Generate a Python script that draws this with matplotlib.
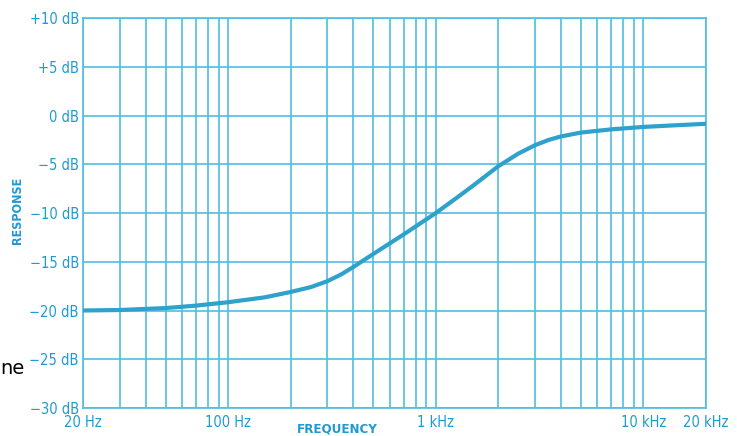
import matplotlib
matplotlib.use('Agg')
import matplotlib.pyplot as plt
from matplotlib.ticker import FixedLocator, NullFormatter

# response curve
freq = [20, 30, 50, 70, 100, 150, 200, 250, 300, 350, 400, 500, 700, 1000,
        1250, 1500, 1750, 2000, 2500, 3000, 3500, 4000, 5000, 7000, 10000, 15000, 20000]
response = [-20.0, -19.95, -19.75, -19.5, -19.15, -18.65, -18.1, -17.6, -17.0, -16.3, -15.55, -14.2, -12.2, -10.0,
            -8.5, -7.25, -6.15, -5.2, -3.9, -3.05, -2.5, -2.15, -1.75, -1.42, -1.17, -0.98, -0.85]

y_ticks = [10, 5, 0, -5, -10, -15, -20, -25, -30]
y_labels = ['+10 dB', '+5 dB', '0 dB', '\u22125 dB', '\u221210 dB', '\u221215 dB',
            '\u221220 dB', '\u221225 dB', '\u221230 dB']
x_ticks = [20, 100, 1000, 10000, 20000]
x_labels = ['20 Hz', '100 Hz', '1 kHz', '10 kHz', '20 kHz']
grid_freqs = [20, 30, 40, 50, 60, 70, 80, 90,
              100, 200, 300, 400, 500, 600, 700, 800, 900,
              1000, 2000, 3000, 4000, 5000, 6000, 7000, 8000, 9000,
              10000, 20000]

grid_color = '#52bde0'
text_color = '#1f9ad3'
curve_color = '#2ea2cc'
font = ['DejaVu Sans']

fig = plt.figure(figsize=(7.37, 4.36), dpi=100)
W, H = 737, 436
ax = fig.add_axes([83 / W, 1 - 408 / H, (706 - 83) / W, (408 - 18) / H])

ax.set_xscale('log')
ax.set_xlim(20, 20000)
ax.set_ylim(-30, 10)

for f in grid_freqs:
    ax.axvline(f, color=grid_color, lw=1.2, zorder=1)
for v in y_ticks:
    ax.axhline(v, color=grid_color, lw=1.2, zorder=1)

ax.plot(freq, response, color=curve_color, lw=3.0, solid_capstyle='round',
        solid_joinstyle='round', zorder=3)

for s in ax.spines.values():
    s.set_color(grid_color)
    s.set_linewidth(1.2)

ax.xaxis.set_major_locator(FixedLocator(x_ticks))
ax.xaxis.set_minor_locator(FixedLocator([]))
ax.xaxis.set_minor_formatter(NullFormatter())
ax.set_xticklabels(x_labels)
ax.set_yticks(y_ticks)
ax.set_yticklabels(y_labels)
ax.tick_params(axis='both', length=0, colors=text_color, labelsize=10.5)
ax.tick_params(axis='x', pad=5)
ax.tick_params(axis='y', pad=3)
for lbl in ax.get_xticklabels() + ax.get_yticklabels():
    lbl.set_family(font)
    lbl.set_fontstretch('condensed')
    lbl.set_fontweight('normal')

fig.text(337 / W, 1 - 429 / H, 'FREQUENCY', color=text_color, fontsize=9.5, fontweight='bold',
         family=font, fontstretch='condensed', ha='center', va='center')
fig.text(18 / W, 1 - 210 / H, 'RESPONSE', color=text_color, fontsize=9, fontweight='bold',
         family=font, fontstretch='condensed', ha='center', va='center', rotation=90)
fig.text(0, 1 - 368 / H, 'ne', color='black', fontsize=14, ha='left', va='center')

fig.savefig('out.png', dpi=100)
